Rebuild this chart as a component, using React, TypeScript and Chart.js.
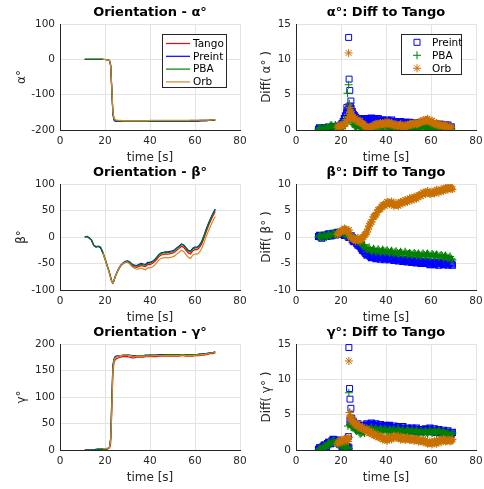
import React, { useEffect, useRef } from 'react';
import { Chart, registerables } from 'chart.js';

Chart.register(...registerables);

const FONT = '"DejaVu Sans", sans-serif';
const AXIS = '#262626';
const GRID = '#e3e3e3';
const C_TANGO = '#ff0000';
const C_PREINT = '#0000ff';
const C_PBA = '#008000';
const C_ORB_LINE = '#d4882c';
const C_ORB = '#c87000';

// ---------- Orientation (line) data ----------
const tLine = [11, 12, 13, 14, 15, 16, 17, 18, 19, 20, 21, 22, 22.5, 23, 23.5, 24, 24.5, 25,
  26, 27, 28, 29, 30, 31, 32, 33, 34, 35, 36, 37, 38, 39, 40, 41, 42, 43, 44, 45,
  46, 47, 48, 49, 50, 51, 52, 53, 54, 55, 56, 57, 58, 59, 60, 61, 62, 63, 64, 65,
  66, 67, 68, 69];

const alphaTango = [0, 0, 0, 0, 0, 0, 0, 0, 0, -0.5, -1, -3, -15, -80, -150, -168, -172, -173,
  -174, -174, -175, -175, -175, -175, -175, -175, -175, -175,
  -175, -175, -175, -175, -174, -174, -174, -174, -174, -174,
  -174, -174, -174, -174, -174, -174, -174, -174, -174, -174,
  -174, -174, -174, -174, -174, -174, -174, -173, -173, -173,
  -173, -172, -172, -171];
const alphaPreint = [0, 0, 0, 0, 0, 0, 0, 0, 0, -0.5, -1.5, -4, -18, -85, -155, -172, -175, -176,
  -176, -176, -176, -176, -176, -176, -176, -176, -176, -176,
  -176, -176, -176, -176, -175, -175, -175, -175, -175, -175,
  -175, -175, -175, -175, -175, -175, -175, -175, -175, -175,
  -175, -175, -175, -175, -175, -175, -174, -174, -174, -174,
  -173, -173, -172, -172];
const alphaPBA = [0, 0, 0, 0, 0, 0, 0, 0, 0, -0.5, -1, -3.5, -16, -82, -152, -170, -173, -174,
  -175, -175, -175, -175, -175, -175, -175, -175, -175, -175,
  -175, -175, -175, -175, -175, -174, -174, -174, -174, -174,
  -174, -174, -174, -174, -174, -174, -174, -174, -174, -174,
  -174, -174, -174, -174, -174, -174, -173, -173, -173, -173,
  -173, -172, -172, -171];
const alphaOrb = [null, null, null, null, null, null, null, null, 0, -0.5, -1.5, -4, -17, -78, -147, -166, -171, -172,
  -173, -173, -174, -174, -174, -174, -174, -174, -174, -174,
  -174, -174, -174, -174, -173, -173, -173, -173, -173, -173,
  -173, -173, -173, -173, -173, -173, -173, -173, -173, -173,
  -173, -173, -172, -172, -172, -172, -172, -172, -172, -172,
  -172, -172, -171, -171];

const betaTango = [0, 1, -2, -6, -16, -18.5, -17.5, -19.5, -29, -41, -54.5, -68, -76, -84, -87, -82, -75, -70.5,
  -61, -54, -50.5, -48, -47.5, -50, -54.5, -56.5, -57.5, -56,
  -54, -55, -56, -52, -52, -50, -47, -42, -37, -34,
  -33, -32, -32.5, -31.5, -30.5, -28.5, -24.5, -21.5, -17.5, -19.5,
  -25, -30, -32, -26, -24, -24, -20, -13, -2, 10,
  21, 31, 40, 48];
const betaPreint = [0, 1, -2, -6, -16, -19, -18, -20, -30, -42, -55, -68, -76, -84, -87, -82, -75, -70,
  -60, -53, -49, -46, -45, -47, -51, -53, -54, -52,
  -50, -51, -52, -48, -48, -46, -43, -38, -33, -30,
  -29, -28, -28, -27, -26, -24, -20, -17, -13, -15,
  -20, -25, -27, -21, -19, -19, -15, -8, 3, 15,
  26, 36, 45, 53];
const betaPBA = [0, 1.2, -1.7, -5.8, -15.6, -18, -17, -19, -28, -40, -54, -67.5, -75.7, -83.7, -87, -82, -75, -70.5,
  -61.5, -54.5, -50, -47, -46, -48, -52, -54, -55, -53.5,
  -51.5, -52.5, -53, -49.5, -49.5, -47, -44, -39, -34, -31,
  -30, -29, -29.5, -28.5, -27.5, -25.5, -21, -18.5, -14, -16,
  -21.5, -26.5, -28.5, -22.5, -20.5, -20.5, -16.5, -9.5, 1.5, 13.5,
  24.5, 34.5, 44, 52];
const betaOrb = [null, null, null, null, null, null, null, null, -29.7, -42, -55.8, -69.4, -77.2, -85, -87.6, -82.2, -74.9, -70.1,
  -60.5, -53.6, -50, -47.6, -47.5, -50.6, -56, -59, -60.8, -60,
  -58.6, -60.2, -61.7, -58, -58.3, -56.5, -53.4, -48.2, -43.1, -40.1,
  -39.3, -38.5, -39.2, -38.3, -37.5, -35.6, -31.8, -28.9, -25.1, -27.4,
  -33.1, -38.3, -40.4, -34.3, -32.2, -32.4, -28.6, -21.6, -10.7, 1.1,
  12, 21.9, 30.7, 38.8];

const gammaTango = [0, 0, 0, 0, 0, 0, 0.5, 0.5, 1, 1.5, 2, 4, 12, 70, 145, 165, 170, 172,
  174, 175, 176, 176, 176, 175, 174, 174, 175, 175,
  175, 175, 176, 176, 176, 176, 176, 176, 177, 177,
  177, 177, 177, 177, 177, 177, 177, 177, 178, 178,
  177, 177, 177, 177, 178, 178, 178, 179, 179, 180,
  181, 182, 182, 183];
const gammaPreint = [0, 0, 0, 0, 0.5, 1, 1.5, 1.5, 1.5, 1, 2, 6, 22, 95, 160, 172, 176, 177,
  178, 178, 179, 179, 179, 179, 178, 178, 178, 178,
  178, 178, 179, 179, 179, 179, 179, 179, 180, 180,
  180, 180, 180, 180, 180, 180, 180, 180, 180, 180,
  180, 180, 180, 180, 180, 180, 181, 181, 182, 182,
  183, 184, 184, 185];
const gammaPBA = [0, 0, 0, 0, 0.5, 1, 1.5, 1.5, 1.5, 1, 2, 5, 20, 90, 158, 171, 175, 176,
  177, 178, 178, 179, 179, 178, 177, 177, 178, 178,
  178, 178, 178, 178, 179, 179, 179, 179, 179, 179,
  179, 180, 180, 180, 180, 180, 180, 180, 180, 180,
  180, 180, 180, 180, 180, 180, 181, 181, 181, 182,
  183, 183, 184, 185];
const gammaOrb = [null, null, null, null, null, null, null, null, 2, 2.5, 3, 5.5, 16, 75, 150, 168, 173, 175,
  177, 178, 179, 179, 179, 178, 177, 176, 177, 177,
  177, 177, 177, 177, 177, 178, 178, 178, 178, 178,
  178, 178, 178, 178, 178, 178, 178, 178, 179, 179,
  178, 178, 178, 178, 179, 179, 179, 180, 180, 181,
  182, 183, 183, 184];

// ---------- Diff to Tango (marker) data ----------
const tDiff = [10, 11, 12, 13, 14, 15, 16, 17, 18, 19, 20, 21, 22, 23, 24, 25, 26, 27, 28, 29,
  30, 31, 32, 33, 34, 35, 36, 37, 38, 39, 40, 41, 42, 43, 44, 45, 46, 47, 48, 49,
  50, 51, 52, 53, 54, 55, 56, 57, 58, 59, 60, 61, 62, 63, 64, 65, 66, 67, 68, 69];
const tDiffH = [10.5, 11.5, 12.5, 13.5, 14.5, 15.5, 16.5, 17.5, 18.5, 19.5,
  20.5, 21.5, 22.5, 23.5, 24.5, 25.5, 26.5, 27.5, 28.5, 29.5,
  30.5, 31.5, 32.5, 33.5, 34.5, 35.5, 36.5, 37.5, 38.5, 39.5,
  40.5, 41.5, 42.5, 43.5, 44.5, 45.5, 46.5, 47.5, 48.5, 49.5,
  50.5, 51.5, 52.5, 53.5, 54.5, 55.5, 56.5, 57.5, 58.5, 59.5,
  60.5, 61.5, 62.5, 63.5, 64.5, 65.5, 66.5, 67.5, 68.5, 69.5];

const dAlphaPreint = [0.1, 0.2, 0.15, 0.3, 0.2, 0.3, 0.35, 0.3, 0.4, 0.5,
  0.7, 1.2, 2.0, 2.8, 3.4, 2.6, 2.0, 1.6, 1.4, 1.3,
  1.2, 1.3, 1.4, 1.5, 1.4, 1.5, 1.4, 1.3, 1.2, 1.1,
  1.2, 1.3, 1.2, 1.1, 1.0, 1.1, 1.0, 0.9, 1.0, 1.1,
  0.9, 0.9, 1.0, 0.8, 0.9, 0.8, 0.9, 1.0, 0.9, 0.8,
  0.8, 0.7, 0.8, 0.7, 0.6, 0.7, 0.6, 0.5, 0.5, 0.4];
const dAlphaPreintH = [0.3, 0.1, 0.3, 0.1, 0.4, 0.2, 0.5, 0.2, 0.5, 0.6,
  0.9, 1.6, 2.4, 3.0, 3.0, 2.2, 1.8, 1.5, 1.6, 1.4,
  1.5, 1.6, 1.3, 1.7, 1.6, 1.3, 1.6, 1.4, 1.4, 1.3,
  1.4, 1.1, 1.4, 1.2, 1.2, 0.9, 1.2, 1.1, 0.8, 1.0,
  1.1, 1.0, 0.8, 1.0, 1.0, 1.0, 1.1, 0.8, 1.0, 1.0,
  0.6, 0.9, 0.6, 0.8, 0.8, 0.5, 0.7, 0.7, 0.4, null];
const dAlphaPBA = [0.1, 0.2, 0.3, 0.2, 0.3, 0.5, 0.6, 0.5, 0.3, 0.2,
  0.3, 0.5, 1.0, 1.8, 2.5, 1.0, 0.6, 0.5, 0.4, 0.3,
  0.2, 0.1, 0.1, 0.2, 0.3, 0.4, 0.3, 0.3, 0.4, 0.3,
  0.4, 0.3, 0.3, 0.2, 0.3, 0.2, 0.3, 0.3, 0.2, 0.3,
  0.2, 0.3, 0.2, 0.3, 0.2, 0.3, 0.2, 0.3, 0.4, 0.3,
  0.3, 0.2, 0.2, 0.3, 0.2, 0.1, 0.2, 0.2, 0.1, 0.2];
const dAlphaPBAH = [0.3, 0.1, 0.2, 0.4, 0.2, 0.7, 0.4, 0.7, 0.2, 0.4,
  0.2, 0.7, 1.3, 2.2, 1.6, 0.8, 0.4, 0.7, 0.2, 0.5,
  0.1, 0.3, 0.0, 0.4, 0.2, 0.5, 0.2, 0.5, 0.2, 0.4,
  0.2, 0.5, 0.1, 0.4, 0.1, 0.4, 0.2, 0.4, 0.1, 0.4,
  0.4, 0.1, 0.4, 0.1, 0.4, 0.2, 0.4, 0.5, 0.2, 0.5,
  0.1, 0.4, 0.1, 0.2, 0.3, 0.2, 0.1, 0.3, 0.2, null];
const dAlphaOrb = [null, null, null, null, null, null, null, null, null, 0.5,
  0.6, 0.7, 0.9, 1.5, 2.5, 1.8, 1.5, 1.4, 1.2, 1.0,
  0.8, 0.5, 0.3, 0.4, 0.6, 0.7, 0.8, 0.9, 0.8, 0.9,
  1.0, 1.0, 0.9, 0.8, 0.7, 0.6, 0.7, 0.6, 0.5, 0.6,
  0.7, 0.8, 0.9, 1.0, 0.9, 1.0, 1.2, 1.3, 1.4, 1.3,
  1.2, 1.0, 0.9, 0.8, 0.7, 0.6, 0.6, 0.5, 0.4, 0.4];
const dAlphaOrbH = [null, null, null, null, null, null, null, null, 0.4, 0.7,
  0.5, 0.9, 1.2, 1.9, 2.1, 1.6, 1.7, 1.2, 1.3, 0.9,
  0.6, 0.4, 0.2, 0.5, 0.5, 0.9, 0.6, 1.0, 1.0, 0.7,
  1.2, 0.8, 1.0, 0.6, 0.8, 0.5, 0.8, 0.4, 0.7, 0.5,
  0.9, 0.7, 1.0, 0.8, 1.1, 1.1, 1.4, 1.2, 1.6, 1.1,
  1.3, 0.8, 1.0, 0.6, 0.8, 0.5, 0.7, 0.3, 0.5, null];
const sAlphaPreintT = [22.6, 23.2, 23.4, 23.6, 23.9, 24.1, 24.4, 25.0];
const sAlphaPreintV = [3.2, 2.5, 13.1, 7.2, 5.6, 3.3, 4.1, 2.4];
const sAlphaPBAT = [21.5, 22.9, 23.4, 23.7, 24.0, 24.4];
const sAlphaPBAV = [1.4, 5.2, 6.4, 3.7, 3.0, 2.2];
const sAlphaOrbT = [23.4, 23.9, 24.4, 24.8];
const sAlphaOrbV = [10.9, 3.2, 2.6, 2.0];

const dBetaPreint = [0.1, 0.0, 0.2, 0.3, 0.4, 0.3, 0.5, 0.6, 0.7, 0.8,
  0.7, 0.5, 0.3, 0.2, 0.0, -0.5, -0.9, -1.2, -1.6, -2.1,
  -2.6, -3.1, -3.4, -3.6, -3.7, -3.8, -3.8, -3.9, -3.9, -4.0,
  -4.0, -4.0, -4.1, -4.1, -4.2, -4.2, -4.3, -4.3, -4.4, -4.4,
  -4.5, -4.5, -4.6, -4.6, -4.7, -4.7, -4.8, -4.7, -4.8, -4.9,
  -4.9, -5.0, -5.0, -5.0, -5.0, -4.9, -5.0, -5.1, -5.0, -5.1];
const dBetaPreintH = [0.3, -0.2, 0.3, 0.1, 0.6, 0.2, 0.7, 0.4, 0.9, 0.6,
  0.8, 0.3, 0.4, -0.1, 0.2, -0.8, -0.7, -1.5, -1.8, -2.5,
  -2.8, -3.4, -3.2, -3.9, -3.5, -4.1, -3.6, -4.2, -3.8, -4.3,
  -3.8, -4.3, -3.9, -4.4, -4.0, -4.5, -4.2, -4.6, -4.2, -4.7,
  -4.3, -4.8, -4.4, -4.9, -4.5, -5.0, -4.6, -5.0, -4.7, -5.2,
  -4.8, -5.2, -4.8, -5.3, -4.8, -5.2, -4.9, -5.3, -4.9, -5.3];
const dBetaPBA = [0.0, 0.2, 0.1, 0.3, 0.2, 0.4, 0.5, 0.6, 0.6, 0.8,
  0.9, 0.7, 0.5, 0.3, 0.1, -0.2, -0.4, -0.6, -0.9, -1.3,
  -1.7, -2.1, -2.3, -2.4, -2.5, -2.5, -2.6, -2.6, -2.7, -2.6,
  -2.7, -2.8, -2.8, -2.9, -2.9, -3.0, -3.0, -3.0, -3.1, -3.1,
  -3.2, -3.2, -3.3, -3.2, -3.3, -3.4, -3.3, -3.4, -3.3, -3.4,
  -3.5, -3.4, -3.5, -3.5, -3.6, -3.6, -3.7, -3.8, -3.9, -4.1];
const dBetaPBAH = [0.2, 0.0, 0.3, 0.0, 0.5, 0.2, 0.7, 0.4, 0.9, 0.6,
  1.0, 0.5, 0.6, 0.1, 0.2, -0.4, -0.2, -0.8, -0.7, -1.6,
  -1.5, -2.3, -2.0, -2.7, -2.2, -2.8, -2.3, -2.9, -2.4, -2.9,
  -2.5, -3.0, -2.6, -3.1, -2.7, -3.2, -2.8, -3.3, -2.8, -3.3,
  -3.0, -3.4, -3.0, -3.5, -3.1, -3.6, -3.1, -3.6, -3.1, -3.7,
  -3.2, -3.7, -3.3, -3.8, -3.4, -3.9, -3.5, -4.0, -3.7, -4.3];
const dBetaOrb = [null, null, null, null, null, null, null, null, null, 0.7,
  1.0, 1.3, 1.4, 1.0, 0.2, -0.4, -0.5, -0.4, -0.5, -0.4,
  0.0, 0.6, 1.5, 2.5, 3.3, 4.0, 4.6, 5.2, 5.7, 6.0,
  6.3, 6.5, 6.4, 6.2, 6.1, 6.1, 6.3, 6.5, 6.7, 6.8,
  7.0, 7.1, 7.3, 7.4, 7.6, 7.9, 8.1, 8.3, 8.4, 8.3,
  8.2, 8.4, 8.6, 8.6, 8.7, 8.9, 9.0, 9.1, 9.3, 9.2];
const dBetaOrbH = [null, null, null, null, null, null, null, null, 0.5, 1.0,
  1.2, 1.6, 1.1, 1.3, -0.1, -0.2, -0.7, -0.2, -0.7, -0.1,
  0.4, 0.9, 2.1, 2.8, 3.8, 4.2, 5.1, 5.3, 6.0, 5.9,
  6.6, 6.2, 6.7, 5.9, 6.4, 5.9, 6.6, 6.3, 7.0, 6.6,
  7.3, 6.9, 7.6, 7.2, 7.9, 7.7, 8.4, 8.1, 8.7, 8.1,
  8.5, 8.2, 8.9, 8.4, 9.0, 8.7, 9.3, 8.9, 9.5, 9.0];

const dGammaPreint = [0.1, 0.3, 0.5, 0.7, 0.9, 1.1, 1.3, 1.4, 1.2, 1.0,
  0.7, 0.4, 0.3, 0.5, 4.0, 3.8, 3.6, 3.5, 3.4, 3.3,
  3.4, 3.5, 3.5, 3.6, 3.6, 3.5, 3.4, 3.4, 3.3, 3.3,
  3.2, 3.3, 3.2, 3.2, 3.1, 3.1, 3.0, 3.1, 3.0, 2.9,
  3.0, 2.9, 2.8, 2.9, 2.8, 2.7, 2.8, 2.8, 2.9, 2.9,
  2.8, 2.8, 2.7, 2.7, 2.6, 2.6, 2.5, 2.5, 2.4, 2.3];
const dGammaPreintH = [0.3, 0.2, 0.7, 0.5, 1.1, 0.9, 1.5, 1.2, 1.4, 0.8,
  0.5, 0.2, 0.5, 0.3, 3.7, 4.0, 3.3, 3.7, 3.2, 3.5,
  3.2, 3.7, 3.3, 3.8, 3.4, 3.7, 3.2, 3.6, 3.1, 3.5,
  3.0, 3.5, 3.0, 3.4, 2.9, 3.3, 2.8, 3.3, 2.8, 3.1,
  2.8, 3.1, 2.6, 3.1, 2.6, 2.9, 2.6, 3.0, 2.7, 3.1,
  2.6, 3.0, 2.5, 2.9, 2.4, 2.8, 2.3, 2.7, 2.2, 2.5];
const dGammaPBA = [0.0, 0.2, 0.4, 0.5, 0.8, 1.0, 1.1, 1.3, 1.1, 0.9,
  0.6, 0.4, 0.2, 0.4, 3.6, 3.2, 3.0, 2.7, 2.5, 2.4,
  2.6, 2.8, 2.9, 3.0, 2.9, 2.9, 2.8, 2.8, 2.9, 2.8,
  2.8, 2.7, 2.8, 2.8, 2.7, 2.8, 2.7, 2.7, 2.6, 2.7,
  2.7, 2.6, 2.7, 2.6, 2.6, 2.5, 2.6, 2.5, 2.5, 2.6,
  2.6, 2.5, 2.6, 2.6, 2.5, 2.5, 2.4, 2.3, 2.2, 2.2];
const dGammaPBAH = [0.2, 0.1, 0.6, 0.3, 1.0, 0.8, 1.3, 1.0, 1.2, 0.7,
  0.8, 0.2, 0.4, 0.2, 3.3, 3.4, 2.8, 2.9, 2.3, 2.6,
  2.4, 3.0, 2.7, 3.2, 2.7, 3.1, 2.6, 3.0, 2.6, 3.0,
  2.6, 2.9, 2.6, 3.0, 2.5, 3.0, 2.5, 2.9, 2.4, 2.9,
  2.5, 2.8, 2.5, 2.8, 2.4, 2.7, 2.4, 2.7, 2.3, 2.8,
  2.4, 2.7, 2.4, 2.8, 2.3, 2.7, 2.2, 2.5, 2.0, 2.4];
const dGammaOrb = [null, null, null, null, null, null, null, null, null, 1.1,
  1.3, 1.4, 1.5, 1.6, 4.6, 4.0, 3.7, 3.5, 3.3, 3.1,
  3.0, 2.8, 2.6, 2.4, 2.3, 2.1, 2.0, 1.8, 1.7, 1.6,
  1.5, 1.6, 1.7, 1.8, 1.9, 1.8, 1.7, 1.6, 1.6, 1.6,
  1.6, 1.5, 1.5, 1.4, 1.4, 1.3, 1.3, 1.2, 1.1, 1.0,
  1.0, 1.1, 1.1, 1.2, 1.3, 1.4, 1.4, 1.3, 1.4, 1.3];
const dGammaOrbH = [null, null, null, null, null, null, null, null, 0.9, 1.3,
  1.1, 1.6, 1.3, 1.8, 4.2, 4.2, 3.5, 3.7, 3.1, 3.3,
  2.8, 3.0, 2.4, 2.6, 2.1, 2.3, 1.8, 2.0, 1.5, 1.8,
  1.3, 1.8, 1.5, 2.0, 1.7, 2.0, 1.5, 1.8, 1.4, 1.8,
  1.4, 1.7, 1.3, 1.6, 1.2, 1.5, 1.1, 1.4, 0.9, 1.2,
  0.8, 1.3, 0.9, 1.4, 1.1, 1.6, 1.2, 1.5, 1.2, 1.5];
const sGammaPreintT = [23.3, 23.5, 23.8, 24.0, 24.4, 24.8];
const sGammaPreintV = [1.9, 14.5, 8.7, 7.2, 5.9, 4.5];
const sGammaPBAT = [23.1, 23.5, 23.9, 24.2];
const sGammaPBAV = [3.4, 8.1, 5.3, 4.8];
const sGammaOrbT = [23.2, 23.5, 23.9, 24.3];
const sGammaOrbV = [1.2, 12.6, 5.3, 4.7];

// ---------- helpers ----------
function pts(xs: number[], ys: (number | null)[]) {
  const out: { x: number; y: number }[] = [];
  xs.forEach((x, i) => {
    const y = ys[i];
    if (y !== null && y !== undefined) out.push({ x, y });
  });
  return out;
}

function lineDs(label: string, ys: (number | null)[], color: string, order: number) {
  return {
    label, data: pts(tLine, ys), showLine: true, borderColor: color, backgroundColor: color,
    borderWidth: 1.2, pointRadius: 0, pointHoverRadius: 0, order, tension: 0,
  };
}

function markDs(label: string, data: { x: number; y: number }[], color: string,
  style: string, radius: number, width: number, order: number) {
  return {
    label, data, showLine: false, pointStyle: style,
    pointRadius: radius, pointHoverRadius: radius, pointBorderColor: color,
    pointBackgroundColor: 'rgba(0,0,0,0)', pointBorderWidth: width, borderColor: color,
    backgroundColor: 'rgba(0,0,0,0)', order,
  };
}

type LegendItem = { label: string; color: string; sym: string };
type LegendSpec = {
  right: number; top: number; w: number; h: number; firstRow: number; rowH: number;
  symX: number; textX: number; items: LegendItem[];
};

function makePlugins(title: string, lg: LegendSpec | null) {
  return [{
    id: 'panelDecor',
    afterDraw(chart: any) {
      const { ctx, chartArea } = chart;
      ctx.save();
      ctx.font = `bold 13px ${FONT}`;
      ctx.fillStyle = '#000';
      ctx.textAlign = 'center';
      ctx.textBaseline = 'middle';
      ctx.fillText(title, (chartArea.left + chartArea.right) / 2, chartArea.top - 11);

      if (lg) {
        const x0 = Math.round(chartArea.right - lg.right - lg.w);
        const y0 = Math.round(chartArea.top + lg.top);
        ctx.fillStyle = '#fff';
        ctx.fillRect(x0, y0, lg.w, lg.h);
        ctx.strokeStyle = AXIS;
        ctx.lineWidth = 1;
        ctx.strokeRect(x0 + 0.5, y0 + 0.5, lg.w - 1, lg.h - 1);
        ctx.font = `10.5px ${FONT}`;
        ctx.textAlign = 'left';
        lg.items.forEach((it, i) => {
          const cy = y0 + lg.firstRow + i * lg.rowH;
          const cx = x0 + lg.symX;
          ctx.strokeStyle = it.color;
          ctx.lineWidth = 1;
          ctx.beginPath();
          if (it.sym === 'line') {
            ctx.lineWidth = 1.2;
            ctx.moveTo(x0 + 4, cy);
            ctx.lineTo(x0 + 28, cy);
          } else if (it.sym === 'rect') {
            ctx.rect(cx - 3, cy - 3, 6, 6);
          } else if (it.sym === 'cross') {
            ctx.moveTo(cx - 4, cy); ctx.lineTo(cx + 4, cy);
            ctx.moveTo(cx, cy - 4); ctx.lineTo(cx, cy + 4);
          } else {
            ctx.moveTo(cx - 4, cy); ctx.lineTo(cx + 4, cy);
            ctx.moveTo(cx, cy - 4); ctx.lineTo(cx, cy + 4);
            ctx.moveTo(cx - 2.9, cy - 2.9); ctx.lineTo(cx + 2.9, cy + 2.9);
            ctx.moveTo(cx - 2.9, cy + 2.9); ctx.lineTo(cx + 2.9, cy - 2.9);
          }
          ctx.stroke();
          ctx.fillStyle = '#000';
          ctx.fillText(it.label, x0 + lg.textX, cy + 0.5);
        });
      }
      ctx.restore();
    },
  }];
}

const legendLines: LegendSpec = {
  right: 13, top: 10, w: 65, h: 54, firstRow: 9.5, rowH: 12.8, symX: 16, textX: 31,
  items: [
    { label: 'Tango', color: C_TANGO, sym: 'line' },
    { label: 'Preint', color: C_PREINT, sym: 'line' },
    { label: 'PBA', color: C_PBA, sym: 'line' },
    { label: 'Orb', color: C_ORB_LINE, sym: 'line' },
  ],
};
const legendMarks: LegendSpec = {
  right: 14, top: 10, w: 61, h: 41, firstRow: 8.3, rowH: 13, symX: 16, textX: 31,
  items: [
    { label: 'Preint', color: C_PREINT, sym: 'rect' },
    { label: 'PBA', color: C_PBA, sym: 'cross' },
    { label: 'Orb', color: C_ORB, sym: 'star' },
  ],
};

type PanelSpec = {
  left: number; top: number; yAxisW: number; padRight: number; yTitlePad: number;
  title: string; yTitle: string; yMin: number; yMax: number; yStep: number;
  datasets: any[]; legend: LegendSpec | null;
};

const CW = 262;
const CH = 166;

function buildConfig(p: PanelSpec): any {
  const tickFont = { family: FONT, size: 10.5 };
  const titleFont = { family: FONT, size: 12 };
  return {
    type: 'scatter',
    data: { datasets: p.datasets },
    options: {
      responsive: false,
      animation: false,
      events: [],
      layout: { padding: { top: 24, right: p.padRight, left: 0, bottom: 0 } },
      plugins: { legend: { display: false }, title: { display: false }, tooltip: { enabled: false } },
      scales: {
        x: {
          type: 'linear', position: 'bottom', min: 0, max: 80,
          ticks: { stepSize: 20, padding: 5, font: tickFont, color: AXIS, maxRotation: 0, autoSkip: false },
          grid: { color: GRID, drawTicks: false, lineWidth: 1 },
          border: { color: AXIS, width: 1 },
          title: { display: true, text: 'time [s]', font: titleFont, color: AXIS, padding: { top: 0, bottom: 1 } },
          afterFit: (s: any) => { s.height = 36; },
        },
        y: {
          type: 'linear', position: 'left', min: p.yMin, max: p.yMax,
          ticks: { stepSize: p.yStep, padding: 5, font: tickFont, color: AXIS, autoSkip: false },
          grid: { color: GRID, drawTicks: false, lineWidth: 1 },
          border: { color: AXIS, width: 1 },
          title: { display: true, text: p.yTitle, font: titleFont, color: AXIS, padding: { top: p.yTitlePad, bottom: 0 } },
          afterFit: (s: any) => { s.width = p.yAxisW; },
        },
      },
    },
    plugins: makePlugins(p.title, p.legend),
  };
}

function Panel({ spec }: { spec: PanelSpec }) {
  const ref = useRef<HTMLCanvasElement | null>(null);
  useEffect(() => {
    if (!ref.current) return;
    const chart = new Chart(ref.current, buildConfig(spec));
    return () => chart.destroy();
  }, []);
  return (
    <canvas
      ref={ref}
      width={CW}
      height={CH}
      style={{ position: 'absolute', left: spec.left, top: spec.top, width: CW, height: CH }}
    />
  );
}

const LX = 0;
const RX = 242;
const BAND_W = 1.2;

type Ser = (number | null)[];
function diffSets(pre: Ser, preH: Ser, pba: Ser, pbaH: Ser, orb: Ser, orbH: Ser,
  spT: number[], spV: number[], sbT: number[], sbV: number[], soT: number[], soV: number[]) {
  return [
    markDs('Preint', pts(tDiff, pre).concat(pts(tDiffH, preH)), C_PREINT, 'rect', 4.2, BAND_W, 5),
    markDs('Preint', pts(spT, spV), C_PREINT, 'rect', 4.2, 1, 4),
    markDs('PBA', pts(tDiff, pba).concat(pts(tDiffH, pbaH)), C_PBA, 'cross', 4, BAND_W, 3),
    markDs('PBA', pts(sbT, sbV), C_PBA, 'cross', 4, 1, 2),
    markDs('Orb', pts(tDiff, orb).concat(pts(tDiffH, orbH)), C_ORB, 'star', 4, BAND_W, 1),
    markDs('Orb', pts(soT, soV), C_ORB, 'star', 4, 1, 0),
  ];
}

const panels: PanelSpec[] = [
  {
    left: LX, top: 0, yAxisW: 60, padRight: 22, yTitlePad: 14.5,
    title: 'Orientation - α°', yTitle: 'α°', yMin: -200, yMax: 100, yStep: 100, legend: legendLines,
    datasets: [
      lineDs('Tango', alphaTango, C_TANGO, 3),
      lineDs('Preint', alphaPreint, C_PREINT, 2),
      lineDs('PBA', alphaPBA, C_PBA, 1),
      lineDs('Orb', alphaOrb, C_ORB_LINE, 0),
    ],
  },
  {
    left: RX, top: 0, yAxisW: 54, padRight: 28, yTitlePad: 18,
    title: 'α°: Diff to Tango', yTitle: 'Diff( α° )', yMin: 0, yMax: 15, yStep: 5, legend: legendMarks,
    datasets: diffSets(dAlphaPreint, dAlphaPreintH, dAlphaPBA, dAlphaPBAH, dAlphaOrb, dAlphaOrbH,
      sAlphaPreintT, sAlphaPreintV, sAlphaPBAT, sAlphaPBAV, sAlphaOrbT, sAlphaOrbV),
  },
  {
    left: LX, top: 160, yAxisW: 60, padRight: 22, yTitlePad: 14.5,
    title: 'Orientation - β°', yTitle: 'β°', yMin: -100, yMax: 100, yStep: 50, legend: null,
    datasets: [
      lineDs('Tango', betaTango, C_TANGO, 3),
      lineDs('Preint', betaPreint, C_PREINT, 2),
      lineDs('PBA', betaPBA, C_PBA, 1),
      lineDs('Orb', betaOrb, C_ORB_LINE, 0),
    ],
  },
  {
    left: RX, top: 160, yAxisW: 54, padRight: 28, yTitlePad: 18,
    title: 'β°: Diff to Tango', yTitle: 'Diff( β° )', yMin: -10, yMax: 10, yStep: 5, legend: null,
    datasets: diffSets(dBetaPreint, dBetaPreintH, dBetaPBA, dBetaPBAH, dBetaOrb, dBetaOrbH,
      [], [], [], [], [], []),
  },
  {
    left: LX, top: 320, yAxisW: 60, padRight: 22, yTitlePad: 14.5,
    title: 'Orientation - γ°', yTitle: 'γ°', yMin: 0, yMax: 200, yStep: 50, legend: null,
    datasets: [
      lineDs('Tango', gammaTango, C_TANGO, 3),
      lineDs('Preint', gammaPreint, C_PREINT, 2),
      lineDs('PBA', gammaPBA, C_PBA, 1),
      lineDs('Orb', gammaOrb, C_ORB_LINE, 0),
    ],
  },
  {
    left: RX, top: 320, yAxisW: 54, padRight: 28, yTitlePad: 18,
    title: 'γ°: Diff to Tango', yTitle: 'Diff( γ° )', yMin: 0, yMax: 15, yStep: 5, legend: null,
    datasets: diffSets(dGammaPreint, dGammaPreintH, dGammaPBA, dGammaPBAH, dGammaOrb, dGammaOrbH,
      sGammaPreintT, sGammaPreintV, sGammaPBAT, sGammaPBAV, sGammaOrbT, sGammaOrbV),
  },
];

export default function App() {
  return (
    <div style={{ position: 'fixed', left: 0, top: 0, width: 484, height: 489, overflow: 'hidden', background: '#fff' }}>
      {panels.map((p, i) => <Panel key={i} spec={p} />)}
    </div>
  );
}
